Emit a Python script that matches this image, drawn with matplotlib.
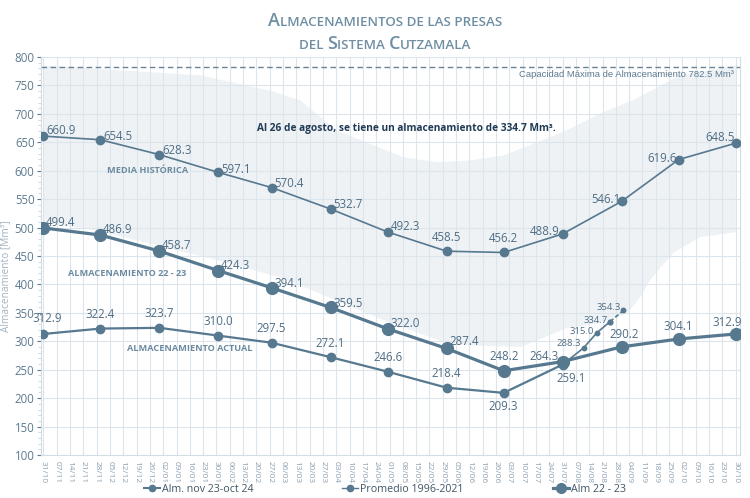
import matplotlib
matplotlib.use("Agg")
import matplotlib.pyplot as plt
import pandas as pd
from matplotlib.offsetbox import TextArea, HPacker, AnchoredOffsetbox
from matplotlib.lines import Line2D
from matplotlib.ticker import MultipleLocator

plt.rcParams['font.family'] = ['Open Sans', 'DejaVu Sans']

# ---------------- data ----------------
start_date = "2022-10-31"
tick_labels = ["31/10", "07/11", "14/11", "21/11", "28/11", "05/12", "12/12", "19/12", "26/12",
               "02/01", "09/01", "16/01", "23/01", "30/01", "06/02", "13/02", "20/02", "27/02",
               "06/03", "13/03", "20/03", "27/03", "03/04", "10/04", "17/04", "24/04", "01/05",
               "08/05", "15/05", "22/05", "29/05", "05/06", "12/06", "19/06", "26/06", "03/07",
               "10/07", "17/07", "24/07", "31/07", "07/08", "14/08", "21/08", "28/08", "04/09",
               "11/09", "18/09", "25/09", "02/10", "09/10", "16/10", "23/10", "30/10"]

month_dates = ["2022-10-31", "2022-11-30", "2022-12-31", "2023-01-31", "2023-02-28", "2023-03-31",
               "2023-04-30", "2023-05-31", "2023-06-30", "2023-07-31", "2023-08-31", "2023-09-30",
               "2023-10-30"]
promedio = [660.9, 654.5, 628.3, 597.1, 570.4, 532.7, 492.3, 458.5, 456.2, 488.9, 546.1, 619.6, 648.5]
alm_22_23 = [499.4, 486.9, 458.7, 424.3, 394.1, 359.5, 322.0, 287.4, 248.2, 264.3, 290.2, 304.1, 312.9]
alm_actual = [312.9, 322.4, 323.7, 310.0, 297.5, 272.1, 246.6, 218.4, 209.3, 259.1]

week_dates = ["2023-07-31", "2023-08-11", "2023-08-18", "2023-08-25", "2023-09-01"]
week_values = [259.1, 288.3, 315.0, 334.7, 354.3]

band_upper_days = [0, 82, 119, 135, 154, 189, 207, 224, 242, 258, 275, 293, 310, 335, 364]
band_upper = [785, 768, 741, 724, 671, 624, 615, 618, 627, 648, 671, 701, 724, 768, 785]
band_lower_days = [0, 28, 63, 91, 124, 151, 179, 210, 224, 251, 275, 293, 307, 314, 319, 331, 345, 364]
band_lower = [509, 495, 466, 443, 413, 376, 337, 299, 293, 290, 323, 332, 350, 378, 408, 455, 483, 492]

capacidad = 782.5

# ---------------- helpers ----------------
t0 = pd.Timestamp(start_date)
def days(ds):
    return [(pd.Timestamp(d) - t0).days for d in ds]

x_month = days(month_dates)
x_actual = x_month[:len(alm_actual)]
x_week = days(week_dates)
x_ticks = [7 * i for i in range(len(tick_labels))]

LINE = "#577990"
LABEL = "#4f6d84"
TITLE = "#6f8ea3"

fig = plt.figure(figsize=(7.5, 4.98), dpi=100)
ax = fig.add_axes([0.0553, 0.0863, 0.9307, 0.7992])

# band
poly_x = band_upper_days + band_lower_days[::-1]
poly_y = band_upper + band_lower[::-1]
ax.fill(poly_x, poly_y, color="#eef2f5", zorder=0, lw=0)

ax.set_xlim(-1, 366)
ax.set_ylim(100, 800)
ax.set_xticks(x_ticks)
ax.set_xticklabels(tick_labels, rotation=-90, fontsize=6, color="#8ba0b0")
ax.yaxis.set_major_locator(MultipleLocator(50))
ax.yaxis.set_minor_locator(MultipleLocator(10))
ax.tick_params(axis='y', which='major', labelsize=8.3, colors="#5d7a90", length=3, pad=2)
ax.tick_params(axis='y', which='minor', length=2, colors="#c9d3db")
ax.tick_params(axis='x', length=0, pad=4)
for lab_ in ax.get_yticklabels():
    lab_.set_color("#5d7a90")
ax.grid(True, which='major', color="#dde5ec", lw=0.8, zorder=0)
ax.set_axisbelow(True)
for s in ['left', 'bottom', 'right']:
    ax.spines[s].set_color("#d3dce3")
ax.spines['top'].set_visible(False)
ax.set_ylabel("Almacenamiento [Mm³]", fontsize=7.3, color="#9fb3c2")
ax.yaxis.set_label_coords(-0.043, 0.45)

# capacity line
ax.axhline(capacidad, color="#6a8497", lw=1, ls=(0, (4, 2.5)), zorder=2)
ax.text(363, capacidad - 6, "Capacidad Máxima de Almacenamiento 782.5 Mm³", ha='right', va='top',
        fontsize=6.8, color="#5d7a90", family=['Liberation Sans', 'DejaVu Sans'])

# series
ax.plot(x_month, promedio, color=LINE, lw=1.2, marker='o', ms=6, zorder=4)
ax.plot(x_month, alm_22_23, color=LINE, lw=2.3, marker='o', ms=8.5, zorder=4)
ax.plot(x_actual, alm_actual, color=LINE, lw=1.6, marker='o', ms=6, zorder=4)
ax.plot(x_week[:-1], week_values[:-1], color=LINE, lw=1.2, marker='o', ms=3.2, zorder=4)
ax.plot(x_week[-2:], week_values[-2:], color=LINE, lw=1.2, ls=(0, (2.5, 1.5)), marker='o', ms=3.2, zorder=4)

# value labels
def lab(x, y, text, dx, dy, ha, va='center', fs=8.3):
    ax.annotate(text, (x, y), xytext=(dx, dy), textcoords='offset points', ha=ha, va=va,
                fontsize=fs, color=LABEL, zorder=6)

prom_off = [(2, 4, 'left'), (2, 2, 'left'), (2, 3, 'left'), (2, 2, 'left'), (2, 3, 'left'),
            (2, 3, 'left'), (2, 4, 'left'), (0, 10, 'center'), (0, 10, 'center'),
            (-2, 2, 'right'), (-1, 1, 'right'), (-1, 1, 'right'), (-1, 4, 'right')]
for x, y, (dx, dy, ha) in zip(x_month, promedio, prom_off):
    lab(x, y, f"{y:.1f}", dx, dy, ha)

a23_off = [(2, 4, 'left'), (2, 4, 'left'), (2, 4, 'left'), (2, 4, 'left'), (2, 3, 'left'),
           (2, 3, 'left'), (2, 4, 'left'), (2, 5, 'left'), (0, 10, 'center'), (-3, 4, 'right'),
           (2, 9, 'center'), (0, 9, 'center'), (-6, 8, 'center')]
for x, y, (dx, dy, ha) in zip(x_month, alm_22_23, a23_off):
    lab(x, y, f"{y:.1f}", dx, dy, ha)

act_off = [(3, 11, 'center'), (0, 10, 'center'), (0, 10, 'center'), (0, 10, 'center'),
           (0, 10, 'center'), (0, 10, 'center'), (0, 10, 'center'), (0, 10, 'center'),
           (0, -10, 'center'), (6, -10, 'center')]
for x, y, (dx, dy, ha) in zip(x_actual, alm_actual, act_off):
    lab(x, y, f"{y:.1f}", dx, dy, ha)

week_off = [(-2, 3, 'right'), (-2, 1, 'right'), (-2, 1, 'right'), (-2, 2, 'right')]
for x, y, (dx, dy, ha) in zip(x_week[1:], week_values[1:], week_off):
    lab(x, y, f"{y:.1f}", dx, dy, ha, fs=6.8)

# series captions
cap_kw = dict(fontsize=6.6, color="#6c8ba0", fontweight='bold', ha='center', va='center', zorder=6)
ax.text(55, 600, "MEDIA HISTÓRICA", **cap_kw)
ax.text(44, 420, "ALMACENAMIENTO 22 - 23", **cap_kw)
ax.text(77, 288, "ALMACENAMIENTO ACTUAL", **cap_kw)

ax.text(191, 675, "Al 26 de agosto, se tiene un almacenamiento de 334.7 Mm³.", ha='center', va='center',
        fontsize=7.3, fontweight='bold', color="#1f3a55", zorder=6)

# title in small caps
BIG, SMALL = 13, 9.6
def title_line(parts, y):
    boxes = [TextArea(t, textprops=dict(fontsize=s, color=TITLE, fontweight='semibold')) for t, s in parts]
    pack = HPacker(children=boxes, align='baseline', pad=0, sep=0)
    anc = AnchoredOffsetbox(loc='center', child=pack, pad=0, frameon=False,
                            bbox_to_anchor=(0.514, y), bbox_transform=fig.transFigure, borderpad=0)
    fig.add_artist(anc)

title_line([("A", BIG), ("LMACENAMIENTOS DE LAS PRESAS", SMALL)], 0.958)
title_line([("DEL ", SMALL), ("S", BIG), ("ISTEMA ", SMALL), ("C", BIG), ("UTZAMALA", SMALL)], 0.911)

# legend
handles = [Line2D([], [], color=LINE, lw=1.5, marker='o', ms=4.5),
           Line2D([], [], color=LINE, lw=1.0, marker='o', ms=4.5),
           Line2D([], [], color=LINE, lw=2.3, marker='o', ms=7)]
fig.legend(handles, ["Alm. nov 23-oct 24", "Promedio 1996-2021", "Alm 22 - 23"], loc='center',
           bbox_to_anchor=(0.513, 0.017), ncol=3, frameon=False, fontsize=7.7, columnspacing=8.3,
           handlelength=1.5, handletextpad=0.2, labelcolor="#3f5566")

fig.savefig("out.png", dpi=100)
